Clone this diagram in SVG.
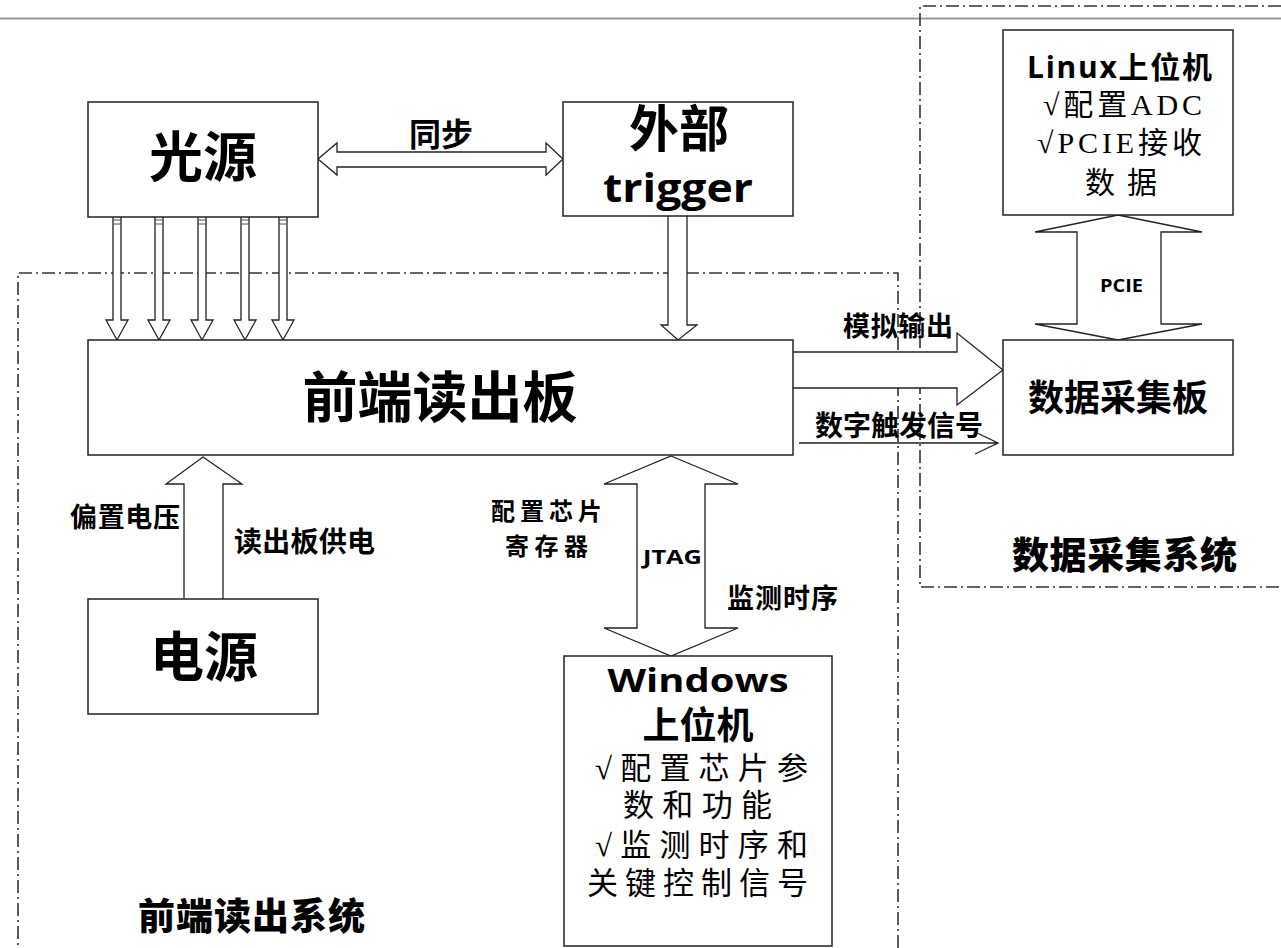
<svg xmlns="http://www.w3.org/2000/svg" width="1281" height="948" viewBox="0 0 1281 948">
<style>
.box{fill:#fff;stroke:#222;stroke-width:1.5}
.arr{fill:#fff;stroke:#222;stroke-width:1.3;stroke-linejoin:miter}
.frame{fill:none;stroke:#333;stroke-width:1.6;stroke-dasharray:13 4 2 4}
.cjkb{font-family:"Noto Sans CJK SC","Noto Sans",sans-serif;font-weight:bold;fill:#000}
.heavy{font-family:"Noto Sans CJK SC","Noto Sans",sans-serif;font-weight:900;fill:#000}
.latb{font-family:"Open Sans","Noto Sans CJK SC",sans-serif;font-weight:bold;fill:#000}
.reg{font-family:"Liberation Serif","Noto Sans CJK SC",serif;font-weight:normal;fill:#000}
.tick{stroke:#555;stroke-width:1}
</style>
<rect width="1281" height="948" fill="#fff"/>
<line x1="0" y1="18.5" x2="1281" y2="18.5" stroke="#999" stroke-width="2"/>
<g id="frames">
<path class="frame" d="M898 948 V273 H18 V948"/>
<path class="frame" d="M1281 6 H920 V587 H1281"/>
</g>
<g id="connectors">
<path class="arr" d="M318 159 L337 143 V152 H546 V143 L563 159 L546 175 V167 H337 V175 Z"/>
<path class="arr" d="M113 217 V320 H106 L117 340 L128 320 H121 V217"/>
<path class="arr" d="M155 217 V320 H148 L159 340 L170 320 H163 V217"/>
<path class="arr" d="M198 217 V320 H191 L202 340 L213 320 H206 V217"/>
<path class="arr" d="M241 217 V320 H234 L245 340 L256 320 H249 V217"/>
<path class="arr" d="M279 217 V320 H272 L283 340 L294 320 H287 V217"/>
<g class="tick">
<line x1="113" y1="220" x2="121" y2="220"/><line x1="113" y1="224" x2="121" y2="224"/>
<line x1="155" y1="220" x2="163" y2="220"/><line x1="155" y1="224" x2="163" y2="224"/>
<line x1="198" y1="220" x2="206" y2="220"/><line x1="198" y1="224" x2="206" y2="224"/>
<line x1="241" y1="220" x2="249" y2="220"/><line x1="241" y1="224" x2="249" y2="224"/>
<line x1="279" y1="220" x2="287" y2="220"/><line x1="279" y1="224" x2="287" y2="224"/>
</g>
<path class="arr" d="M668 216 V325 H661 L678 340 L697 325 H687 V216"/>
<path class="arr" d="M184 599 V484 H166 L203 457 L242 484 H223 V599"/>
<path class="arr" d="M671 456 L738 484 H705 V628 H738 L671 656 L604 628 H637 V484 H604 Z"/>
<path class="arr" d="M793 352 H957 V333 L1003 370 L957 405 V388 H793"/>
<path d="M799 443 H998 M975 432 L998 443 L975 454" fill="none" stroke="#222" stroke-width="1.3"/>
<path class="arr" d="M1118 215 L1202 232 H1161 V324 H1202 L1118 340 L1035 324 H1077 V232 H1035 Z"/>
</g>
<g id="n-light"><rect class="box" x="88" y="102" width="230" height="115"/><text class="cjkb" x="203" y="177" font-size="54" text-anchor="middle">光源</text></g>
<g id="n-trigger"><rect class="box" x="563" y="102" width="230" height="114"/><text class="cjkb" x="679" y="147" font-size="50" text-anchor="middle">外部</text><text class="latb" x="678" y="202" font-size="40" text-anchor="middle" textLength="150" lengthAdjust="spacingAndGlyphs">trigger</text></g>
<g id="n-frontend"><rect class="box" x="88" y="340" width="705" height="115"/><text class="cjkb" x="440" y="417" font-size="55" text-anchor="middle">前端读出板</text></g>
<g id="n-power"><rect class="box" x="88" y="599" width="230" height="115"/><text class="cjkb" x="204" y="677" font-size="54" text-anchor="middle">电源</text></g>
<g id="n-windows"><rect class="box" x="564" y="656" width="268" height="290"/>
<text class="latb" x="698" y="692" font-size="32" text-anchor="middle" textLength="181" lengthAdjust="spacingAndGlyphs">Windows</text>
<text class="cjkb" x="698" y="739" font-size="37" text-anchor="middle">上位机</text>
<text class="reg" x="595" y="779" font-size="31" textLength="213" lengthAdjust="spacing">√配置芯片参</text>
<text class="reg" x="623" y="816" font-size="31" textLength="149" lengthAdjust="spacing">数和功能</text>
<text class="reg" x="595" y="856" font-size="31" textLength="213" lengthAdjust="spacing">√监测时序和</text>
<text class="reg" x="587" y="894" font-size="31" textLength="221" lengthAdjust="spacing">关键控制信号</text>
</g>
<g id="n-linux"><rect class="box" x="1003" y="30" width="230" height="185"/>
<text class="latb" x="1027" y="78" font-size="30" textLength="185" lengthAdjust="spacing">Linux上位机</text>
<text class="reg" x="1043" y="115" font-size="30" textLength="159" lengthAdjust="spacing">√配置ADC</text>
<text class="reg" x="1037" y="153" font-size="30" textLength="165" lengthAdjust="spacing">√PCIE接收</text>
<text class="reg" x="1085" y="193" font-size="30" textLength="72" lengthAdjust="spacing">数据</text>
</g>
<g id="n-daq"><rect class="box" x="1003" y="340" width="230" height="115"/><text class="cjkb" x="1118" y="411" font-size="36" text-anchor="middle">数据采集板</text></g>
<g id="labels">
<text class="cjkb" x="441" y="146" font-size="32" text-anchor="middle">同步</text>
<text class="cjkb" x="843" y="336" font-size="27" textLength="110" lengthAdjust="spacing">模拟输出</text>
<text class="cjkb" x="815" y="436" font-size="28" textLength="168" lengthAdjust="spacing">数字触发信号</text>
<text class="cjkb" x="70" y="527" font-size="27" textLength="110" lengthAdjust="spacing">偏置电压</text>
<text class="cjkb" x="234" y="552" font-size="28" textLength="141" lengthAdjust="spacing">读出板供电</text>
<text class="cjkb" x="491" y="520" font-size="24" textLength="111" lengthAdjust="spacing">配置芯片</text>
<text class="cjkb" x="505" y="555" font-size="24" textLength="83" lengthAdjust="spacing">寄存器</text>
<text class="latb" x="643" y="564" font-size="19" textLength="59" lengthAdjust="spacingAndGlyphs">JTAG</text>
<text class="cjkb" x="727" y="608" font-size="27" textLength="111" lengthAdjust="spacing">监测时序</text>
<text class="latb" x="1100" y="292" font-size="18" textLength="43" lengthAdjust="spacingAndGlyphs">PCIE</text>
<text class="heavy" x="1012" y="569" font-size="37" textLength="225" lengthAdjust="spacing">数据采集系统</text>
<text class="heavy" x="138" y="930" font-size="37" textLength="227" lengthAdjust="spacing">前端读出系统</text>
</g>
</svg>
